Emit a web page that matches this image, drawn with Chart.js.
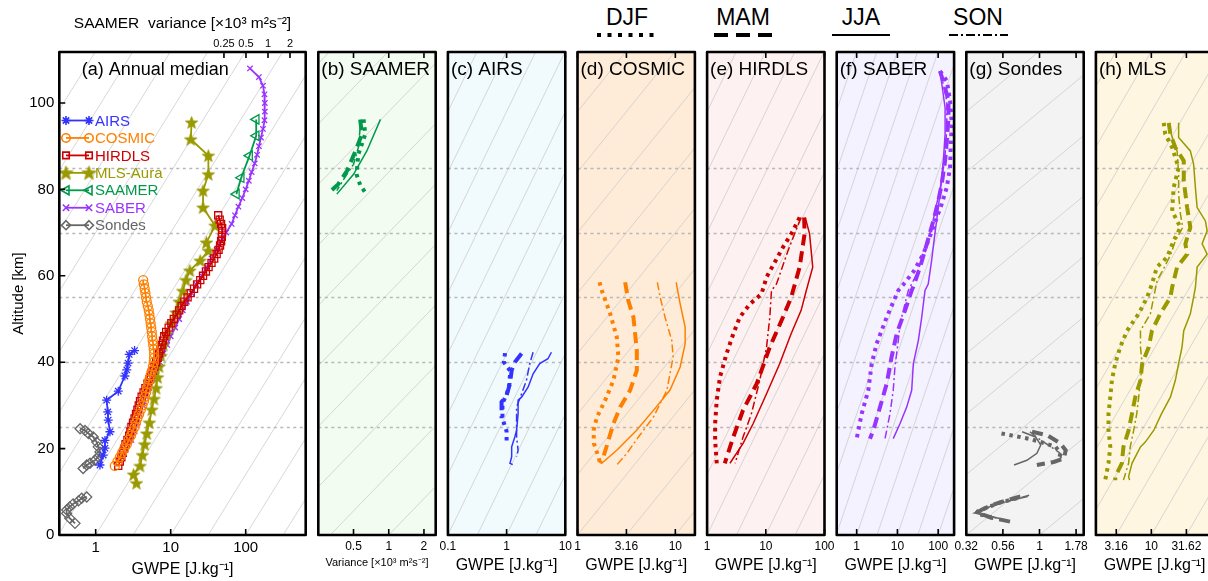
<!DOCTYPE html>
<html>
<head>
<meta charset="utf-8">
<title>GWPE profiles</title>
<script src="https://cdn.jsdelivr.net/npm/chart.js@4.4.1/dist/chart.umd.min.js"></script>
<style>
  html, body { margin: 0; padding: 0; background: #fff; }
  body { position: relative; width: 1208px; height: 581px; overflow: hidden; font-family: "Liberation Sans", Arial, sans-serif; }
  canvas { position: absolute; top: 0; }
  .season { position: absolute; top: 4px; width: 80px; text-align: center; font-size: 23px; line-height: 26px; color: #000; }
  #seasonKey { position: absolute; left: 0; top: 0; }
</style>
</head>
<body>
<div class="season" style="left:587px">DJF</div>
<div class="season" style="left:703px">MAM</div>
<div class="season" style="left:821px">JJA</div>
<div class="season" style="left:938px">SON</div>
<svg id="seasonKey" width="1208" height="45">
  <line x1="597" y1="35" x2="656" y2="35" stroke="#000" stroke-width="4" stroke-dasharray="4 6.5"/>
  <line x1="714" y1="35" x2="773" y2="35" stroke="#000" stroke-width="4" stroke-dasharray="14 8"/>
  <line x1="832" y1="35" x2="890" y2="35" stroke="#000" stroke-width="2"/>
  <line x1="949" y1="35" x2="1008" y2="35" stroke="#000" stroke-width="2" stroke-dasharray="9 3 2 3"/>
</svg>
<script>
// ---------- data, [altitude km, value] ----------
const seasons = ['DJF', 'MAM', 'JJA', 'SON'];

// (a) annual medians (GWPE J/kg, SAAMER in variance 10^3 m2/s2)
const annualAirs = [[42.7,3.3],[41.8,2.8],[39.8,2.7],[38.2,2.6],[36.8,2.45],[33.3,2.0],[31.2,1.4],[28.5,1.45],[26.6,1.47],[23.9,1.55],[21.9,1.33],[20.1,1.33],[18.5,1.26],[16.2,1.14]];
const annualCosmic = [[16,1.8],[17,1.95],[18,2.1],[19,2.25],[20,2.4],[21,2.6],[22,2.75],[23,2.95],[24,3.1],[25,3.3],[26,3.45],[27,3.6],[28,3.8],[29,4.0],[30,4.2],[31,4.4],[32,4.55],[33,4.7],[34,4.85],[35,5.0],[36,5.2],[37,5.4],[38,5.6],[39,5.8],[40,5.95],[41,6.0],[42,6.0],[43,5.95],[44,5.85],[45,5.75],[46,5.65],[47,5.6],[48,5.5],[49,5.4],[50,5.3],[51,5.2],[52,5.1],[53,4.95],[54,4.8],[55,4.7],[56,4.6],[57,4.5],[58,4.4],[59,4.3]];
const annualHirdls = [[16,2.0],[17,2.1],[18,2.2],[19,2.3],[20,2.4],[21,2.5],[22,2.65],[23,2.8],[24,2.9],[25,3.0],[26,3.15],[27,3.3],[28,3.45],[29,3.6],[30,3.75],[31,3.9],[32,4.1],[33,4.35],[34,4.6],[35,4.9],[36,5.2],[37,5.45],[38,5.75],[39,6.05],[40,6.4],[41,6.7],[42,7.0],[43,7.3],[44,7.6],[45,7.9],[46,8.2],[47,8.7],[48,9.4],[49,10.2],[50,11.0],[51,12.0],[52,13.0],[53,14.0],[54,15.2],[55,16.8],[56,18.5],[57,20.5],[58,22.5],[59,24.8],[60,27],[61,29.5],[62,32],[63,35],[64,38],[65,41],[66,43.5],[67,45.5],[68,47],[69,48],[70,48.5],[71,48.5],[72,47],[73,45],[74,43]];
const annualMls = [[12,3.5],[14,3.2],[16,3.9],[18.5,4.2],[21,4.5],[23.5,4.8],[26,5.2],[29,5.6],[31.5,6.0],[34,6.4],[36.5,6.7],[39,7.0],[41.5,7.4],[44,8.0],[46.5,8.8],[49,10.2],[51.5,11.8],[54,13],[56.5,14.5],[59,16],[61.2,18],[63.5,24.7],[65.8,31.8],[67.7,30],[71.6,39],[75.8,27],[79.7,27],[83.5,31.8],[87.8,31.8],[91.6,18.5],[95.5,19]];
const annualSaamer = [[96.2,0.69],[92.4,0.69],[87.8,0.56],[82.7,0.43],[78.9,0.37]];
const annualSaber = [[108,114],[106,150],[104,170],[102,178],[100,180],[98,180],[96,178],[94,170],[92,160],[90,150],[88,142],[86,132],[84,120],[82,110],[80,100],[78,90],[76,80],[74,72],[72,65],[70,55],[68,47],[66,41],[64,35],[62,30],[60,26],[58,22],[56,19],[54,16.5],[52,14.5],[50,13],[48,11.5],[46,10],[44,9],[42,8],[40,7.2],[38,6.5],[36,5.8],[34,5.2],[32,4.7],[30,4.3],[28,3.9],[26,3.6],[24,3.3],[22,3.0]];
const annualSondes = [[24.6,0.62],[24.2,0.72],[23.5,0.8],[22.7,0.93],[21.5,1.03],[20.4,1.08],[19.2,1.14],[18.1,1.08],[17.3,0.98],[16.6,0.84],[16.2,0.76],[15.4,0.68],
  null,[8.8,0.76],[8.5,0.65],[7.9,0.59],[7.2,0.5],[6.5,0.45],[5.8,0.41],[5.0,0.41],[3.9,0.45],[2.7,0.53]];

// (b) SAAMER variance by season
const saamerDJF = [[96.2,0.61],[92.8,0.63],[88.1,0.55],[83.5,0.53],[81,0.57],[79.3,0.63]];
const saamerMAM = [[96.2,0.57],[92.8,0.59],[88.9,0.52],[84.3,0.44],[81.2,0.37],[78.9,0.30]];
const saamerJJA = [[96.2,0.85],[88.9,0.65],[83.5,0.50],[78.9,0.36]];
const saamerSON = [[94.3,0.57],[89.7,0.55],[85.8,0.50],[82.7,0.42],[79.7,0.36]];

// (c) AIRS
const airsDJF = [[42.1,0.94],[40,0.9],[38,1.15],[35,1.12],[32.5,1.0],[30.5,0.85],[27,0.85],[24,1.0],[21.9,1.0]];
const airsMAM = [[42,1.8],[40,1.38],[38.1,1.22],[35,1.14],[32.3,1.0],[30.8,0.82],[27,0.82]];
const airsJJA = [[42.3,5.8],[40.8,5.06],[39.7,3.67],[37.3,2.83],[34.2,2.32],[31.9,1.8],[31.2,1.57],[28.1,1.57],[24.2,1.48],[22.7,1.38],[20.4,1.22],[18.1,1.22],[16.6,1.14],[16.3,1.27]];
const airsSON = [[42.3,2.83],[39.7,2.48],[35.8,2.18],[32.7,1.8],[29.6,1.48],[25.8,1.48],[22.7,1.48],[19.6,1.57],[18.1,1.48]];

// (d) COSMIC
const cosmicDJF = [[58.5,1.68],[56.6,1.77],[51.2,2.16],[45.8,2.52],[41.2,2.62],[35.8,2.33],[31.2,1.92],[27.3,1.58],[24.2,1.46],[21.2,1.47],[18.1,1.64],[16.6,1.7]];
const cosmicMAM = [[58.5,3.07],[54.3,3.3],[50.4,3.73],[42.7,4.04],[38.1,4.04],[33.5,3.45],[29.6,2.73],[25.8,2.33],[21.9,2.07],[18.1,1.84],[16.6,1.7]];
const cosmicJJA = [[58.5,10.2],[53.5,11.2],[48.1,12.6],[44.3,12.6],[38.9,11.2],[33.5,8.8],[28.9,6.0],[24.2,4.0],[19.6,2.52],[16.6,1.77]];
const cosmicSON = [[58.5,6.55],[55,7.0],[50.4,7.85],[45,9.2],[41.2,9.5],[33.5,8.2],[27.3,5.97],[22.7,4.2],[18.9,3.2],[16.2,2.52]];

// (e) HIRDLS
const hirdlsDJF = [[73.5,37.7],[70,28],[66.6,19.6],[59.7,10.3],[55.8,8.45],[53.5,5.4],[50.4,3.6],[46.6,2.8],[42,2.15],[36.6,1.66],[31.2,1.46],[25.8,1.37],[21.9,1.37],[16.6,1.46]];
const hirdlsMAM = [[73.5,45],[69.7,45.8],[62,37.7],[55,27],[50.4,19.6],[43.5,11.7],[35,7.0],[28.9,4.1],[22.7,2.8],[16.6,2.0]];
const hirdlsJJA = [[73.5,47],[69.7,55.7],[62,63],[56.6,49],[52,40],[46.6,27],[39.7,17.3],[32.7,10.3],[25.8,6.1],[21.2,4.1],[16.6,2.45]];
const hirdlsSON = [[73.5,40],[72.7,37.7],[65.8,23.9],[58.1,15.2],[56.6,12.5],[50.4,11.7],[43.5,10.3],[35.8,7.9],[28.1,5.7],[22.7,4.1],[16.6,3.0]];

// (f) SABER
const saberDJF = [[107.4,111],[105.1,163],[100.5,196],[95.1,216],[90.5,204],[85.1,196],[80.5,163],[76.6,122],[71.2,76],[65,43],[61,25],[58,14],[56.6,10.5],[50.4,5.45],[44.3,3.1],[39.7,2.34],[33.5,1.93],[28.1,1.33],[24.2,1.1],[22.3,1.0]];
const saberMAM = [[107.4,111],[103.5,148],[100.5,179],[96.6,179],[91.2,163],[86.6,148],[81.2,122],[77.4,101],[72.7,76],[67.3,52.4],[62,36],[57.5,24.6],[56.6,22.4],[52,15.4],[46.6,9.6],[41.2,7.2],[35,5.45],[29.6,3.74],[24.2,2.56],[22.3,2.12]];
const saberJJA = [[107.4,111],[98.9,148],[92.8,148],[86.6,134],[80.5,115],[75.8,101],[69.7,83],[63.5,69],[58.1,57],[56.6,47.6],[50.4,39.5],[45,32.6],[39.7,24.6],[33.5,22.4],[29.6,16.9],[25.8,11.6],[22.3,7.9]];
const saberSON = [[107.4,111],[104.3,134],[100.5,163],[94.3,163],[88.1,148],[81.9,122],[76.6,92],[71.2,69],[65.8,47.6],[60.4,29.8],[56.6,18.5],[48.9,11.6],[45,10.5],[38.9,8.7],[33.5,7.9],[28.1,6.58],[24.2,5.45],[22.3,4.96]];

// (g) Sondes (upper and lower layers)
const sondesDJF = [[23.5,0.55],[22.9,0.68],[22.2,0.87],[21.3,1.07],[20.4,1.29],[18.9,1.39],[17.7,1.36],
  null,[8.5,0.7],[7.6,0.55],[6.5,0.45],[5.5,0.38],[5.0,0.37],[4.5,0.42],[3.8,0.5]];
const sondesMAM = [[23.9,0.89],[23.1,1.13],[21.2,1.39],[19.6,1.51],[17.7,1.47],[16.9,1.25],[16.2,0.96],
  null,[8.9,0.74],[8.2,0.62],[7.5,0.53],[6.6,0.45],[5.8,0.4],[5.2,0.38],[4.7,0.41],[4.0,0.47],[3.1,0.63]];
const sondesJJA = [[23.9,0.76],[22.7,0.94],[20.8,1.02],[18.9,0.96],[17.3,0.82],[16.2,0.67],
  null,[8.9,0.83],[8.3,0.7],[7.5,0.56],[6.6,0.46],[5.6,0.39],[5.1,0.36],[4.8,0.4],[4.3,0.47],[3.7,0.55],[3.2,0.62]];
const sondesSON = [[23.9,0.86],[22.7,0.95],[21.5,1.07],[20.4,1.2],[19.2,1.35],[18.3,1.45],[17.7,1.38],
  null,[9.2,0.85],[8.4,0.7],[7.2,0.52],[6.2,0.43],[5.4,0.37],[4.9,0.38],[4.4,0.45],[3.5,0.56]];

// (h) MLS
const mlsDJF = [[95.4,15],[92.8,15.8],[89.7,19.8],[85,24.5],[80.4,20.8],[75,19.8],[71.2,26],[68.1,20.8],[64.3,16.8],[62,12],[58.1,10.2],[55,8.7],[51.2,6.6],[47.3,4.5],[43.5,3.6],[39.7,3.06],[35.8,2.74],[31.9,2.6],[28.1,2.45],[24.2,2.45],[20.4,2.6],[16.6,2.45],[12.7,2.2]];
const mlsMAM = [[95.4,17.7],[92.8,18.7],[89.7,22],[86.6,29],[82,29],[75.8,32.4],[71.2,36],[67.4,30.6],[65,32.4],[62,23.3],[57.3,19.8],[55,18.7],[51.2,13.4],[47.3,10.2],[43.5,9.2],[39.7,7.4],[35.8,7.0],[31.9,5.9],[28.1,5.3],[24.2,4.74],[20.4,4.0],[16.6,3.8],[13.5,3.06],[12.7,3.06]];
const mlsJJA = [[95.4,24.5],[92,24.5],[88.9,36],[85.8,40.1],[80.4,42.5],[75.8,45],[72.7,59],[70.4,62.5],[67.4,53],[65,62.5],[62,45],[57.3,42.5],[55,40],[51.2,36],[47.3,29],[43.5,27.4],[39.7,24.5],[35.8,22],[31.9,18.7],[28.1,14],[24.2,10.8],[21.5,8.2],[20.4,7.0],[16.6,5.3],[13.5,4.74],[12.7,4.9]];
const mlsSON = [[93,19],[88.9,23.3],[83.5,24.5],[78.9,24.5],[74.3,26],[71.2,28],[68.1,22],[65,19],[61.2,14.5],[58.9,12.1],[55,10.8],[51.2,9.7],[47.3,7.0],[43.5,7.0],[39.7,7.4],[35.8,7.0],[31.9,6.6],[28.1,6.2],[24.2,5.6],[20.4,5.0],[16.6,4.74],[12.7,4.0]];

// axis ticks
const altTicks = [0, 20, 40, 60, 80, 100];
const guideAlts = [25, 40, 55, 70, 85];

// ---------- drawing ----------
Chart.defaults.font.family = '"Liberation Sans", Arial, sans-serif';
Chart.defaults.color = '#000';

const Z_TOP = 111.8;
const KM_PER_DECADE = 28;   // slope of the grey reference lines
const PANEL_W = 117.4;

function pts(list) {
  return list.map(p => p ? { x: p[1], y: p[0] } : { x: null, y: null });
}

function starImage(r, color) {
  const c = document.createElement('canvas');
  const s = Math.ceil(2 * r + 2);
  c.width = s; c.height = s;
  const g = c.getContext('2d');
  g.fillStyle = color; g.strokeStyle = color; g.lineWidth = 0.8;
  g.beginPath();
  for (let i = 0; i < 10; i++) {
    const rr = i % 2 ? r * 0.42 : r;
    const t = -Math.PI / 2 + i * Math.PI / 5;
    g.lineTo(s / 2 + rr * Math.cos(t), s / 2 + rr * Math.sin(t) + 0.6);
  }
  g.closePath(); g.fill(); g.stroke();
  return c;
}

function drawMarker(ctx, kind, x, y, r, color) {
  ctx.save();
  ctx.strokeStyle = color; ctx.fillStyle = color; ctx.lineWidth = 1.6;
  ctx.beginPath();
  if (kind === 'asterisk') {
    for (let i = 0; i < 4; i++) {
      const t = i * Math.PI / 4;
      ctx.moveTo(x + r * Math.cos(t), y + r * Math.sin(t));
      ctx.lineTo(x - r * Math.cos(t), y - r * Math.sin(t));
    }
    ctx.stroke();
  } else if (kind === 'circle') {
    ctx.arc(x, y, r, 0, Math.PI * 2); ctx.stroke();
  } else if (kind === 'square') {
    ctx.rect(x - r * 0.72, y - r * 0.72, r * 1.44, r * 1.44); ctx.stroke();
  } else if (kind === 'star5') {
    const img = starImage(r, color);
    ctx.drawImage(img, x - img.width / 2, y - img.height / 2);
  } else if (kind === 'triLeft') {
    ctx.moveTo(x - r, y); ctx.lineTo(x + r * 0.6, y - r * 0.9); ctx.lineTo(x + r * 0.6, y + r * 0.9);
    ctx.closePath(); ctx.stroke();
  } else if (kind === 'x') {
    ctx.moveTo(x - r, y - r); ctx.lineTo(x + r, y + r);
    ctx.moveTo(x - r, y + r); ctx.lineTo(x + r, y - r); ctx.stroke();
  } else if (kind === 'diamond') {
    ctx.moveTo(x, y - r); ctx.lineTo(x + r, y); ctx.lineTo(x, y + r); ctx.lineTo(x - r, y);
    ctx.closePath(); ctx.stroke();
  }
  ctx.restore();
}

// background, grey guide lines, inward ticks, frame and panel label
const panelDeco = {
  id: 'panelDeco',
  beforeDraw(chart, args, o) {
    const { ctx, chartArea: a } = chart;
    ctx.save();
    ctx.fillStyle = o.bg;
    ctx.fillRect(a.left, a.top, a.width, a.height);
    ctx.restore();
  },
  beforeDatasetsDraw(chart, args, o) {
    const { ctx, chartArea: a, scales } = chart;
    const xs = scales.x, ys = scales.y;
    ctx.save();
    ctx.beginPath(); ctx.rect(a.left, a.top, a.width, a.height); ctx.clip();
    ctx.strokeStyle = '#cdcdcd'; ctx.lineWidth = 0.8;
    const lo = Math.log10(xs.min), hi = Math.log10(xs.max);
    const k0 = Math.floor((lo - Z_TOP / KM_PER_DECADE) * 2), k1 = Math.ceil(hi * 2);
    for (let k = k0; k <= k1; k++) {
      ctx.beginPath();
      ctx.moveTo(xs.getPixelForValue(Math.pow(10, k / 2)), ys.getPixelForValue(0));
      ctx.lineTo(xs.getPixelForValue(Math.pow(10, k / 2 + Z_TOP / KM_PER_DECADE)), ys.getPixelForValue(Z_TOP));
      ctx.stroke();
    }
    ctx.strokeStyle = '#b8b8b8'; ctx.lineWidth = 1.6; ctx.setLineDash([3, 3.5]);
    guideAlts.forEach(h => {
      const py = Math.round(ys.getPixelForValue(h)) + 0.5;
      ctx.beginPath(); ctx.moveTo(a.left, py); ctx.lineTo(a.right, py); ctx.stroke();
    });
    ctx.restore();
  },
  afterDatasetsDraw(chart, args, o) {
    const { ctx, chartArea: a } = chart;
    ctx.save();
    ctx.fillStyle = '#000';
    ctx.font = o.titleSize + 'px "Liberation Sans", Arial, sans-serif';
    ctx.textBaseline = 'middle';
    ctx.fillText(o.title, a.left + o.titleDx, a.top + 18);
    ctx.restore();
  },
  afterDraw(chart, args, o) {
    const { ctx, chartArea: a, scales } = chart;
    ctx.save();
    ctx.strokeStyle = '#000'; ctx.lineWidth = 1.6;
    ctx.beginPath();
    o.bottomTicks.forEach(v => {
      const p = scales.x.getPixelForValue(v);
      ctx.moveTo(p, a.bottom); ctx.lineTo(p, a.bottom - 6);
    });
    const ts = scales[o.topScale];
    o.topTicks.forEach(v => {
      const p = ts.getPixelForValue(v);
      ctx.moveTo(p, a.top); ctx.lineTo(p, a.top + 6);
    });
    (o.yTicks || []).forEach(v => {
      const p = scales.y.getPixelForValue(v);
      ctx.moveTo(a.left, p); ctx.lineTo(a.left + 6, p);
    });
    ctx.stroke();
    ctx.lineWidth = 2.6; ctx.lineJoin = 'round';
    ctx.strokeRect(a.left, a.top, a.width, a.height);
    ctx.restore();
  }
};

// legend of panel (a): line with a marker at each end, coloured label
const annualKey = {
  id: 'annualKey',
  afterDatasetsDraw(chart, args, o) {
    const ctx = chart.ctx;
    ctx.save();
    ctx.font = '15px "Liberation Sans", Arial, sans-serif';
    ctx.textBaseline = 'middle';
    o.items.forEach((it, i) => {
      const y = o.y0 + i * o.dy;
      ctx.strokeStyle = it.color; ctx.lineWidth = 1.8;
      ctx.beginPath(); ctx.moveTo(66, y); ctx.lineTo(89, y); ctx.stroke();
      drawMarker(ctx, it.marker, 66, y, it.key, it.color);
      drawMarker(ctx, it.marker, 89, y, it.key, it.color);
      ctx.fillStyle = it.color;
      ctx.fillText(it.label, 95, y + 1);
    });
    ctx.restore();
  }
};

function logAxis(min, max, ticks, labels, opt) {
  return {
    type: 'logarithmic', position: opt.position || 'bottom', min: min, max: max, bounds: 'data',
    afterBuildTicks: s => { s.ticks = ticks.map(v => ({ value: v })); },
    afterFit: s => { s.height = opt.height; s.paddingLeft = 0; s.paddingRight = 0; },
    ticks: { autoSkip: false, maxRotation: 0, minRotation: 0, padding: opt.tickPad, font: { size: opt.tickSize },
      color: '#000', callback: (v, i) => labels[i] },
    grid: { display: false, drawTicks: false },
    border: { display: false },
    title: { display: true, text: opt.title, font: { size: opt.titleSize }, color: '#000', padding: opt.titlePad }
  };
}

// ----- panel (a) -----
const annualSeries = [
  { label: 'AIRS', data: annualAirs, color: '#3333ff', marker: 'asterisk', style: 'star', r: 4.5, key: 4.5 },
  { label: 'COSMIC', data: annualCosmic, color: '#ff8000', marker: 'circle', style: 'circle', r: 4.5, key: 4.2 },
  { label: 'HIRDLS', data: annualHirdls, color: '#cc0000', marker: 'square', style: 'rect', r: 5, key: 4.5 },
  { label: 'MLS-Aura', data: annualMls, color: '#999900', marker: 'star5', r: 6.5, key: 7.5 },
  { label: 'SAAMER', data: annualSaamer, color: '#00994c', marker: 'triLeft', style: 'triangle', r: 5.5, key: 5, axis: 'x2' },
  { label: 'SABER', data: annualSaber, color: '#9933ff', marker: 'x', style: 'crossRot', r: 3.8, key: 3.2 },
  { label: 'Sondes', data: annualSondes, color: '#666666', marker: 'diamond', style: 'rectRot', r: 5, key: 4.5 }
];
const drawOrder = ['COSMIC', 'AIRS', 'HIRDLS', 'MLS-Aura', 'SAAMER', 'Sondes', 'SABER'];

(function () {
  const cv = document.createElement('canvas');
  cv.width = 320; cv.height = 581; cv.style.left = '0px';
  document.body.appendChild(cv);
  const mlsStar = starImage(6.5, '#999900');
  const datasets = drawOrder.map(name => {
    const s = annualSeries.find(d => d.label === name);
    return {
      label: s.label, data: pts(s.data), xAxisID: s.axis || 'x',
      borderColor: s.color, borderWidth: 1.8, tension: 0, fill: false,
      pointStyle: s.marker === 'star5' ? mlsStar : s.style,
      pointRotation: s.marker === 'triLeft' ? -90 : 0,
      pointRadius: s.r, pointBorderColor: s.color, pointBorderWidth: 1.3,
      pointBackgroundColor: 'rgba(255,255,255,0)'
    };
  });
  new Chart(cv, {
    type: 'line',
    data: { datasets },
    options: {
      responsive: false, animation: false, devicePixelRatio: 1,
      layout: { padding: { left: 0, right: 320 - 305.7, top: 0, bottom: 0 } },
      plugins: {
        legend: { display: false }, tooltip: { enabled: false },
        panelDeco: { bg: '#ffffff', title: '(a) Annual median', titleSize: 18, titleDx: 22.5,
          bottomTicks: [1, 10, 100], topScale: 'x2', topTicks: [0.25, 0.5, 1, 2], yTicks: altTicks },
        annualKey: { y0: 120.5, dy: 17.45, items: annualSeries }
      },
      scales: {
        x: logAxis(Math.pow(10, -0.485), Math.pow(10, 2.8), [1, 10, 100], ['1', '10', '100'],
          { height: 46, tickPad: 4, tickSize: 15, title: 'GWPE [J.kg⁻¹]', titleSize: 16, titlePad: { top: 0, bottom: 1.5 } }),
        x2: logAxis(0.0014, 3.28, [0.25, 0.5, 1, 2], ['0.25', '0.5', '1', '2'],
          { position: 'top', height: 52, tickPad: 1, tickSize: 11, title: 'SAAMER  variance [×10³ m²s⁻²]', titleSize: 15.5, titlePad: { top: 14.5, bottom: 0 } }),
        y: {
          type: 'linear', position: 'left', min: 0, max: Z_TOP, bounds: 'data',
          afterBuildTicks: s => { s.ticks = altTicks.map(v => ({ value: v })); },
          afterFit: s => { s.width = 59.3; s.paddingTop = 0; s.paddingBottom = 0; },
          ticks: { padding: 5, font: { size: 15 }, color: '#000', autoSkip: false },
          grid: { display: false, drawTicks: false }, border: { display: false },
          title: { display: true, text: 'Altitude [km]', font: { size: 15 }, color: '#000', padding: { top: 10, bottom: 0 } }
        }
      }
    },
    plugins: [panelDeco, annualKey]
  });
})();

// ----- seasonal panels (b)-(h) -----
const seasonStyles = [
  { borderWidth: 4, borderDash: [3.5, 4.5] },
  { borderWidth: 4, borderDash: [11, 6] },
  { borderWidth: 1.5, borderDash: [] },
  { borderWidth: 1.5, borderDash: [8, 3, 2, 3] }
];
const gwpeTitle = 'GWPE [J.kg⁻¹]';
const panels = [
  { title: '(b) SAAMER', left: 318.3, bg: '#f3fcf1', color: '#00994c', min: 0.25, max: 2.52,
    ticks: [0.5, 1, 2], labels: ['0.5', '1', '2'], xTitle: 'Variance [×10³ m²s⁻²]', xTitleSize: 11, xTitlePad: 11.5,
    series: [saamerDJF, saamerMAM, saamerJJA, saamerSON] },
  { title: '(c) AIRS', left: 447.9, bg: '#f1fbfd', color: '#3333ff', min: 0.1, max: 10,
    ticks: [0.1, 1, 10], labels: ['0.1', '1', '10'], series: [airsDJF, airsMAM, airsJJA, airsSON] },
  { title: '(d) COSMIC', left: 577.5, bg: '#feecd8', color: '#ff8000', min: 1, max: Math.pow(10, 1.2),
    ticks: [1, Math.pow(10, 0.5), 10], labels: ['1', '3.16', '10'], series: [cosmicDJF, cosmicMAM, cosmicJJA, cosmicSON] },
  { title: '(e) HIRDLS', left: 707.1, bg: '#fdf2f1', color: '#cc0000', min: 1, max: 100,
    ticks: [1, 10, 100], labels: ['1', '10', '100'], series: [hirdlsDJF, hirdlsMAM, hirdlsJJA, hirdlsSON] },
  { title: '(f) SABER', left: 836.7, bg: '#f3f2fe', color: '#9933ff', min: Math.pow(10, -0.49), max: Math.pow(10, 2.391),
    ticks: [1, 10, 100], labels: ['1', '10', '100'], series: [saberDJF, saberMAM, saberJJA, saberSON] },
  { title: '(g) Sondes', left: 966.3, bg: '#f3f3f3', color: '#666666', min: Math.pow(10, -0.5), max: Math.pow(10, 0.302),
    ticks: [Math.pow(10, -0.5), Math.pow(10, -0.25), 1, Math.pow(10, 0.25)], labels: ['0.32', '0.56', '1', '1.78'],
    series: [sondesDJF, sondesMAM, sondesJJA, sondesSON] },
  { title: '(h) MLS', left: 1095.9, bg: '#fef6e0', color: '#999900', min: 1.62, max: 76.5,
    ticks: [Math.pow(10, 0.5), 10, Math.pow(10, 1.5)], labels: ['3.16', '10', '31.62'], series: [mlsDJF, mlsMAM, mlsJJA, mlsSON] }
];

panels.forEach(p => {
  const cv = document.createElement('canvas');
  const cvLeft = Math.floor(p.left) - 24, cvWidth = 166;
  cv.width = cvWidth; cv.height = 581; cv.style.left = cvLeft + 'px';
  document.body.appendChild(cv);
  const padL = p.left - cvLeft, padR = cvWidth - padL - PANEL_W;
  new Chart(cv, {
    type: 'line',
    data: {
      datasets: p.series.map((s, i) => Object.assign({
        label: seasons[i], data: pts(s), borderColor: p.color, pointRadius: 0,
        tension: 0, fill: false, borderCapStyle: 'butt'
      }, seasonStyles[i]))
    },
    options: {
      responsive: false, animation: false, devicePixelRatio: 1,
      layout: { padding: { left: padL, right: padR, top: 52, bottom: 0 } },
      plugins: {
        legend: { display: false }, tooltip: { enabled: false },
        panelDeco: { bg: p.bg, title: p.title, titleSize: 19, titleDx: 3,
          bottomTicks: p.ticks, topScale: 'x', topTicks: p.ticks }
      },
      scales: {
        x: logAxis(p.min, p.max, p.ticks, p.labels,
          { height: 46, tickPad: 4, tickSize: 12, title: p.xTitle || gwpeTitle, titleSize: p.xTitleSize || 16,
            titlePad: { top: 0, bottom: p.xTitlePad || 5.5 } }),
        y: { display: false, min: 0, max: Z_TOP }
      }
    },
    plugins: [panelDeco]
  });
});
</script>
</body>
</html>
